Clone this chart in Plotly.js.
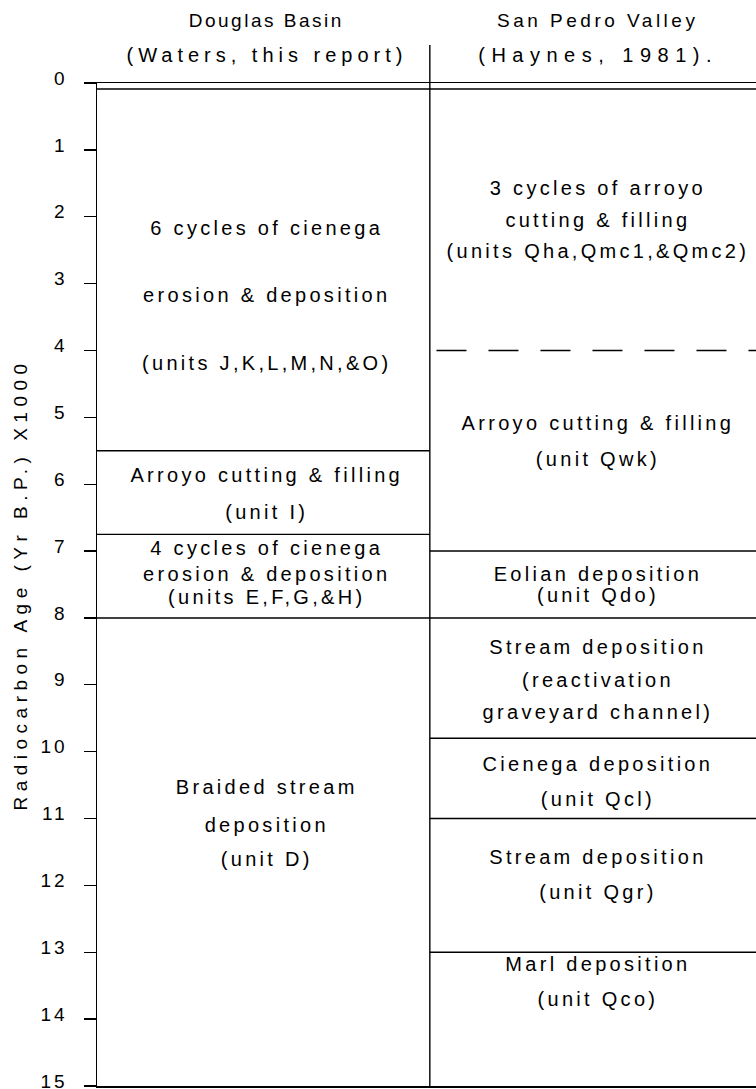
<!DOCTYPE html>
<html><head><meta charset="utf-8">
<script src="https://cdn.plot.ly/plotly-3.0.1.min.js"></script>
<style>
html,body{margin:0;padding:0;background:#fff;}
#chart{width:756px;height:1089px;}
#chart .textpoint text{letter-spacing:3.3px;}
#chart .ytick text{letter-spacing:3px;}
#chart .ytitle{letter-spacing:5.5px;}
</style>
</head><body><div id="chart"></div>
<script>
// Column headers (two lines each)
var leftHeader = ["Douglas Basin", "(Waters, this report)"];
var rightHeader = ["San Pedro Valley", "(Haynes, 1981)."];
// Age ticks (x1000 yr B.P.)
var ageTicks = [0,1,2,3,4,5,6,7,8,9,10,11,12,13,14,15];
// Unit boundaries (x1000 yr B.P.)
var topRule = 0.09;
var leftBounds = [5.5, 6.75, 8.0];
var rightBounds = [7.0, 8.0, 9.8, 11.0, 13.0];
var rightDashed = 4.0;
// Left column text lines and their ages
var leftText = ["6 cycles of cienega","erosion & deposition","(units J,K,L,M,N,&O)",
  "Arroyo cutting & filling","(unit I)",
  "4 cycles of cienega","erosion & deposition","(units E,F,G,&H)",
  "Braided stream","deposition","(unit D)"];
var leftTextAge = [2.20,3.20,4.21, 5.89,6.44, 6.98,7.38,7.72, 10.56,11.12,11.64];
// Right column text lines and their ages
var rightText = ["3 cycles of arroyo","cutting & filling","(units Qha,Qmc1,&Qmc2)",
  "Arroyo cutting & filling","(unit Qwk)",
  "Eolian deposition","(unit Qdo)",
  "Stream deposition","(reactivation","graveyard channel)",
  "Cienega deposition","(unit Qcl)",
  "Stream deposition","(unit Qgr)",
  "Marl deposition","(unit Qco)"];
var rightTextAge = [1.60,2.08,2.54, 5.11,5.66, 7.38,7.69, 8.47,8.96,9.44, 10.22,10.74, 11.61,12.13, 13.21,13.73];

var FONT = "Liberation Sans, Arial, sans-serif";
var traces = [];
function hline(x0, x1, y, dash) {
  traces.push({type:'scatter', mode:'lines', x:[x0,x1], y:[y,y], hoverinfo:'skip',
    line:{color:'#000', width:1.4, dash: dash||'solid'}, showlegend:false});
}
hline(0, 2, topRule);
leftBounds.forEach(function(b){ hline(0, 1, b); });
rightBounds.forEach(function(b){ hline(1, 2, b); });
hline(1.02, 2, rightDashed, '30px,22px');
traces.push({type:'scatter', mode:'text', x:leftText.map(function(){return 0.51;}), y:leftTextAge,
  text:leftText, textposition:'middle center', cliponaxis:false, hoverinfo:'skip',
  textfont:{family:FONT, size:20, color:'#000'}, showlegend:false});
traces.push({type:'scatter', mode:'text', x:rightText.map(function(){return 1.505;}), y:rightTextAge,
  text:rightText, textposition:'middle center', cliponaxis:false, hoverinfo:'skip',
  textfont:{family:FONT, size:20, color:'#000'}, showlegend:false});

function header(x, y, t, size) {
  return {xref:'x', yref:'paper', x:x, y:y, text:t, showarrow:false,
    font:{size:size, family:FONT, color:'#000'}, xanchor:'center', yanchor:'middle'};
}
var headerSpacing = ['2.5px', '5px', '3.5px', '6.5px'];
var layout = {
  width:756, height:1089,
  margin:{l:97, r:0, t:83, b:3},
  paper_bgcolor:'#fff', plot_bgcolor:'#fff',
  font:{family:FONT, color:'#000', size:19},
  xaxis:{range:[0,1.98], showgrid:false, zeroline:false, showticklabels:false,
    showline:true, linecolor:'#000', linewidth:1.5, mirror:true, ticks:'', fixedrange:true},
  yaxis:{range:[15,0], tickvals:ageTicks, ticktext:ageTicks.map(String), ticks:'outside', ticklen:12,
    tickwidth:1.4, tickcolor:'#000', showline:true, linecolor:'#000', linewidth:1.5,
    showgrid:false, zeroline:false, ticklabelstandoff:12, ticklabeloverflow:'allow', ticklabelshift:5,
    tickfont:{size:19, family:FONT, color:'#000'},
    title:{text:'Radiocarbon Age (Yr B.P.) X1000', font:{size:19, family:FONT, color:'#000'}, standoff:14},
    automargin:false, fixedrange:true},
  shapes:[{type:'line', xref:'x', yref:'paper', x0:1, x1:1, y0:0, y1:1.038,
    line:{color:'#000', width:1.4}}],
  annotations:[
    header(0.51, 1.0627, leftHeader[0], 19), header(0.51, 1.0279, leftHeader[1], 20),
    header(1.505, 1.0627, rightHeader[0], 19), header(1.505, 1.0279, rightHeader[1], 20)
  ]
};
Plotly.newPlot('chart', traces, layout, {staticPlot:true, displayModeBar:false}).then(function(gd){
  var els = gd.querySelectorAll('.annotation-text');
  for (var i = 0; i < els.length; i++) { els[i].style.letterSpacing = headerSpacing[i] || '3px'; }
});
</script></body></html>
